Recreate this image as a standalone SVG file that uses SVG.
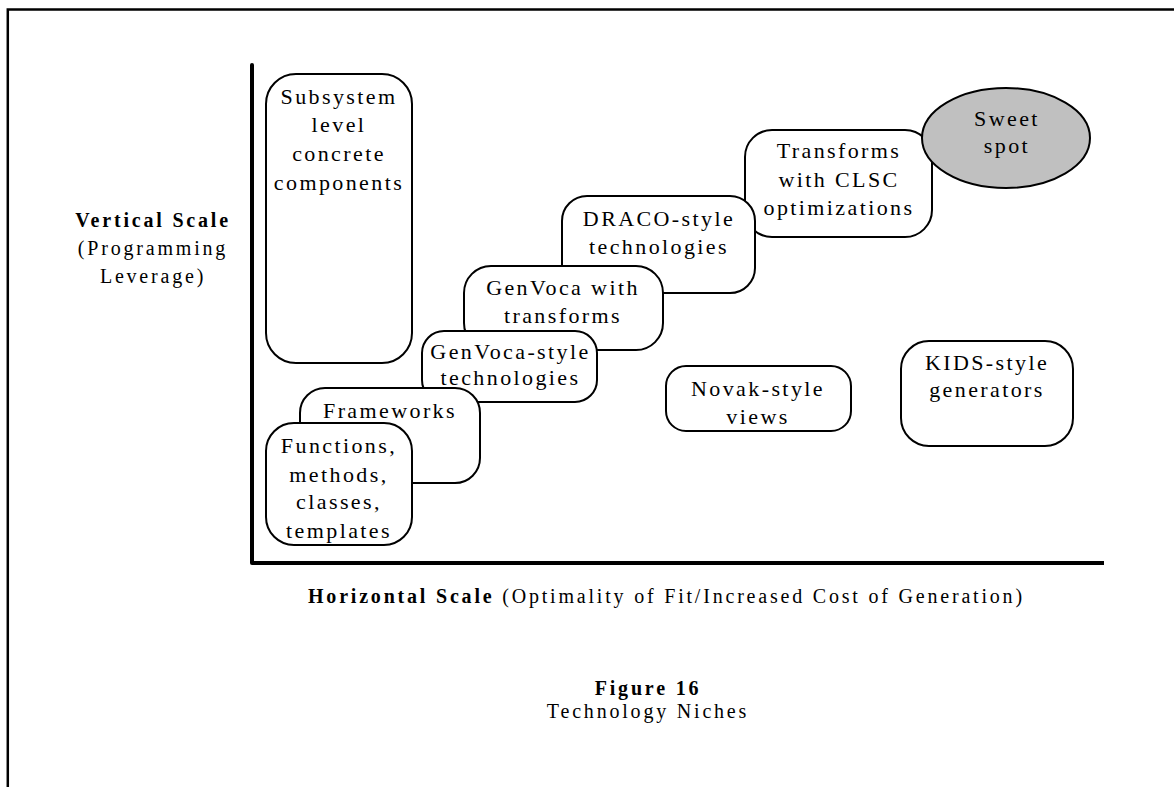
<svg xmlns="http://www.w3.org/2000/svg" width="1174" height="787" viewBox="0 0 1174 787">
<style>
text{font-family:"Liberation Serif","Times New Roman",serif;fill:#000}
.bt{font-size:22px;letter-spacing:2.4px;text-anchor:middle}
.ax{font-size:20px;letter-spacing:2.8px}
.b{font-weight:bold}
.box{fill:#fff;stroke:#000;stroke-width:2}
</style>
<rect width="1174" height="787" fill="#fff"/>
<path d="M7.8 800 V9.5 H1180" fill="none" stroke="#000" stroke-width="2.5"/>
<g id="axes" stroke="#000" stroke-width="4" fill="none">
<line x1="252" y1="65" x2="252" y2="563" stroke-linecap="round"/>
<line x1="252" y1="563" x2="1104" y2="563"/>
</g>
<g id="connectors"></g>
<g id="subsystem">
<rect class="box" x="266" y="74" width="146" height="289" rx="30"/>
<text class="bt" x="339" y="104">Subsystem</text>
<text class="bt" x="339" y="132">level</text>
<text class="bt" x="339" y="161">concrete</text>
<text class="bt" x="339" y="190">components</text>
</g>
<g id="transforms">
<rect class="box" x="745" y="130" width="187" height="107" rx="27"/>
<text class="bt" x="839" y="158">Transforms</text>
<text class="bt" x="839" y="186.5">with CLSC</text>
<text class="bt" x="839" y="215">optimizations</text>
</g>
<g id="sweet-spot">
<ellipse cx="1006" cy="138" rx="84" ry="50" fill="#c0c0c0" stroke="#000" stroke-width="2"/>
<text class="bt" x="1007" y="126">Sweet</text>
<text class="bt" x="1007" y="153">spot</text>
</g>
<g id="draco">
<rect class="box" x="562" y="196" width="193" height="97" rx="25"/>
<text class="bt" x="659" y="226">DRACO-style</text>
<text class="bt" x="659" y="254">technologies</text>
</g>
<g id="genvoca-transforms">
<rect class="box" x="464" y="266" width="199" height="84" rx="27"/>
<text class="bt" x="563" y="295">GenVoca with</text>
<text class="bt" x="563" y="323">transforms</text>
</g>
<g id="genvoca-style">
<rect class="box" x="422" y="331" width="175" height="71" rx="22"/>
<text class="bt" x="510.5" y="359">GenVoca-style</text>
<text class="bt" x="510.5" y="385">technologies</text>
</g>
<g id="frameworks">
<rect class="box" x="300" y="388" width="180" height="95" rx="25"/>
<text class="bt" x="390" y="418">Frameworks</text>
</g>
<g id="functions">
<rect class="box" x="266" y="423" width="146" height="122" rx="28"/>
<text class="bt" x="339" y="453">Functions,</text>
<text class="bt" x="339" y="481.5">methods,</text>
<text class="bt" x="339" y="509">classes,</text>
<text class="bt" x="339" y="537.5">templates</text>
</g>
<g id="novak">
<rect class="box" x="666" y="366" width="185" height="65" rx="20"/>
<text class="bt" x="758" y="396">Novak-style</text>
<text class="bt" x="758" y="424">views</text>
</g>
<g id="kids">
<rect class="box" x="901" y="341" width="172" height="105" rx="28"/>
<text class="bt" x="987" y="370">KIDS-style</text>
<text class="bt" x="987" y="397">generators</text>
</g>
<g id="vertical-label">
<text class="ax b" x="153" y="227" text-anchor="middle">Vertical Scale</text>
<text class="ax" x="153" y="255" text-anchor="middle">(Programming</text>
<text class="ax" x="153" y="283" text-anchor="middle">Leverage)</text>
</g>
<g id="horizontal-label">
<text class="ax" x="308" y="603"><tspan class="b">Horizontal Scale</tspan> (Optimality of Fit/Increased Cost of Generation)</text>
</g>
<g id="caption">
<text class="ax b" x="648" y="695" text-anchor="middle">Figure 16</text>
<text class="ax" x="648" y="718" text-anchor="middle">Technology Niches</text>
</g>
</svg>
